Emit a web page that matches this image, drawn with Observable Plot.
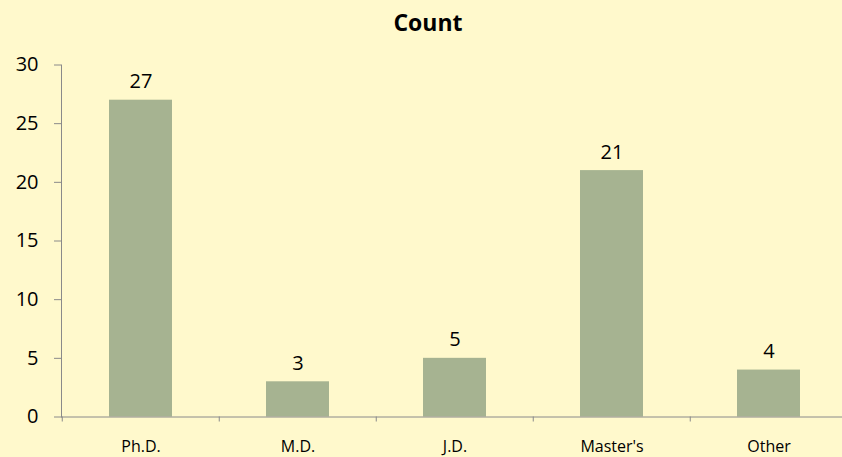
<!DOCTYPE html>
<html>
<head>
<meta charset="utf-8">
<script src="https://cdn.jsdelivr.net/npm/d3@7"></script>
<script src="https://cdn.jsdelivr.net/npm/@observablehq/plot@0.6"></script>
<style>
  html, body { margin: 0; padding: 0; background: #FFF9CC; }
  #chart { width: 842px; height: 457px; background: #FFF9CC; overflow: hidden; font-family: "Open Sans", sans-serif; }
  #title { box-sizing: border-box; height: 40px; padding-top: 11px; padding-left: 14px; text-align: center; font-weight: bold; font-size: 23px; line-height: 23px; color: #000; }
  svg { display: block; }
</style>
</head>
<body>
<div id="chart"><div id="title">Count</div></div>
<script>
const categories = ["Ph.D.", "M.D.", "J.D.", "Master's", "Other"];
const counts = [27, 3, 5, 21, 4];
const yTicks = [0, 5, 10, 15, 20, 25, 30];

const data = categories.map((c, i) => ({category: c, count: counts[i]}));

const axisColor = "#8A8A8A";
const barColor = "#A6B391";
const step = 157.5;

const plot = Plot.plot({
  width: 842,
  height: 417,
  marginLeft: 61,
  marginRight: 0,
  marginTop: 24.5,
  marginBottom: 40.5,
  style: {background: "transparent", fontFamily: "'Open Sans', sans-serif", color: "#000"},
  x: {domain: categories, range: [61, 848.5], paddingInner: 0.6, paddingOuter: 0.3, label: null},
  y: {domain: [0, 30], label: null},
  marks: [
    Plot.barY(data, {x: "category", y: "count", fill: barColor}),
    Plot.frame({anchor: "left", stroke: axisColor}),
    Plot.ruleY([0], {stroke: axisColor}),
    Plot.ruleX(categories, {x: d => d, y1: 0, y2: 0, insetBottom: -5, dx: -step / 2, stroke: axisColor}),
    Plot.axisY({ticks: yTicks, tickSize: 7, tickPadding: 16, fontSize: 20, stroke: axisColor, label: null, tickFormat: d => String(d)}),
    Plot.axisX({tickSize: 0, tickPadding: 24, fontSize: 16, label: null}),
    Plot.text(data, {x: "category", y: "count", text: d => String(d.count), lineAnchor: "bottom", dy: -12, fontSize: 20, fill: "#000"})
  ]
});
document.getElementById("chart").appendChild(plot);
</script>
</body>
</html>
